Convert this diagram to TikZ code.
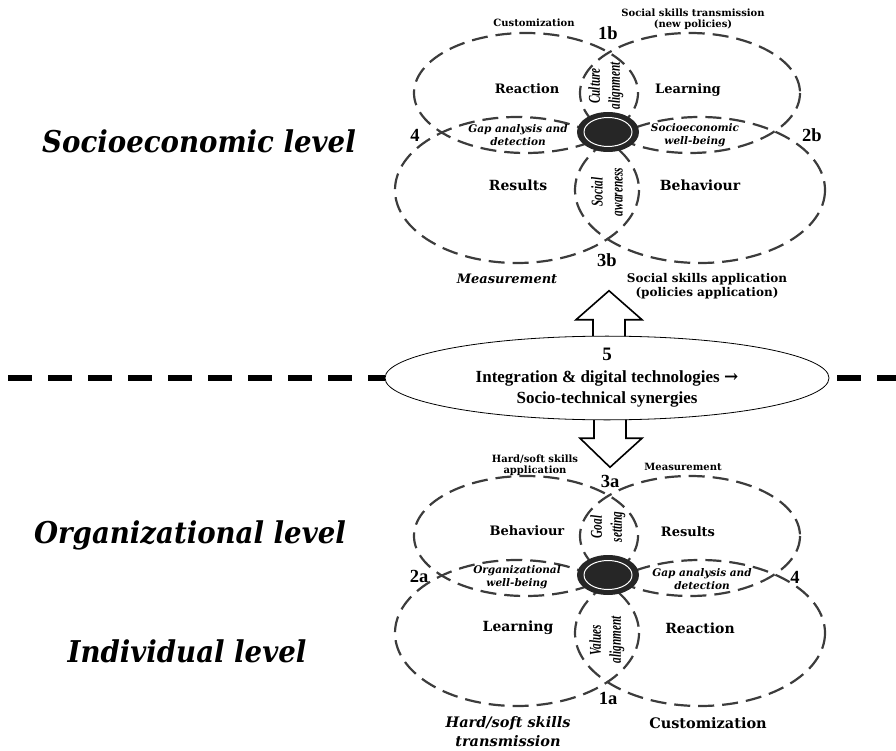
\documentclass[tikz,border=0pt]{standalone}
\usepackage{fontspec}
\usepackage{tikz}
\usetikzlibrary{calc,shapes.geometric,backgrounds}
\setmainfont{DejaVu Serif}
\newfontfamily\timesfont{Liberation Serif}
\newfontfamily\arrowfont{DejaVu Serif}
\newfontfamily\narrowfont[FakeStretch=0.68]{Liberation Serif}
\newfontfamily\sidefont[FakeStretch=0.92]{DejaVu Serif}
\definecolor{ringgray}{HTML}{3C3C3C}
\definecolor{hubcolor}{HTML}{262626}
\tikzset{
  ring/.style={draw=ringgray, line width=2.2pt, dash pattern=on 16pt off 8pt},
  lbl/.style={font=\bfseries\fontsize{13}{15}\selectfont, align=center, inner sep=1pt},
  lowlbl/.style={font=\bfseries\fontsize{14}{16}\selectfont, align=center, inner sep=1pt},
  smalllbl/.style={font=\bfseries\fontsize{10}{11.5}\selectfont, align=center, inner sep=1pt},
  outlbl/.style={font=\bfseries\fontsize{12}{14}\selectfont, align=center, inner sep=1pt},
  footlbl/.style={font=\bfseries\fontsize{14.5}{19}\selectfont, align=center, inner sep=1pt},
  lenslbl/.style={font=\bfseries\itshape\fontsize{10.5}{12.5}\selectfont, align=center, inner sep=1pt},
  rotlbl/.style={rotate=90, font=\narrowfont\bfseries\itshape\fontsize{16.5}{20}\selectfont, align=center, inner sep=1pt},
  numlbl/.style={font=\timesfont\bfseries\fontsize{18.5}{18}\selectfont, inner sep=1pt},
  levellbl/.style={font=\sidefont\bfseries\itshape\fontsize{30}{32}\selectfont, anchor=base, inner sep=0pt},
  midnode/.style={ellipse, draw=black, line width=0.8pt, fill=white, minimum width=444, minimum height=77,
    inner sep=0pt, align=center, font=\timesfont\bfseries\fontsize{17}{21}\selectfont},
  blockarrow/.style={draw=black, line width=1.6pt, fill=white, line join=miter},
  divider/.style={line width=6.5pt, dash pattern=on 24pt off 16pt}
}
\begin{document}
\begin{tikzpicture}[x=1pt, y=-1pt]
  \useasboundingbox (0,0) rectangle (896,751);
  % two four-ring clusters
  \foreach \dy in {0,443} {
    \begin{scope}[shift={(0,\dy)}]
      \draw[ring] (526,93) ellipse [x radius=112, y radius=60];
      \draw[ring] (690,93) ellipse [x radius=110, y radius=60];
      \draw[ring] (517,190) ellipse [x radius=122, y radius=73];
      \draw[ring] (700,190) ellipse [x radius=125, y radius=73];
      \fill[hubcolor] (608,132) ellipse [x radius=31, y radius=20];
      \draw[white, line width=1pt] (608,132) ellipse [x radius=24, y radius=14.5];
    \end{scope}
  }

  % socioeconomic level
  \node[smalllbl] (cust1) at (534,23) {Customization};
  \node[smalllbl] (trans1) at (693,19) {Social skills transmission\\(new policies)};
  \node[numlbl] (n1b) at (608,33) {1b};
  \node[lbl] (react1) at (527,89) {Reaction};
  \node[rotlbl] (cult) at (606,86) {Culture\\alignment};
  \node[lbl] (learn1) at (688,90) {Learning};
  \node[numlbl] (n4b) at (415,135) {4};
  \node[lenslbl] (gap1) at (518,135) {Gap analysis and\\detection};
  \node[lenslbl] (well1) at (695,135) {Socioeconomic\\well-being};
  \node[numlbl] (n2b) at (812,135) {2b};
  \node[lowlbl] (res1) at (518,185) {Results};
  \node[rotlbl] (soc) at (607,192) {Social\\awareness};
  \node[lowlbl] (beh1) at (700,185) {Behaviour};
  \node[numlbl] (n3b) at (607,260) {3b};
  \node[outlbl, font=\bfseries\itshape\fontsize{13}{14}\selectfont] (meas1) at (507,279) {Measurement};
  \node[outlbl] (appl1) at (707,286) {Social skills application\\(policies application)};

  % integration
  \node[midnode] (mid) at (607,378) {{\fontsize{19}{21}\selectfont 5}\\[1pt]Integration \& digital technologies {\arrowfont →}\\Socio-technical synergies};
  \coordinate (lend) at (8,378);
  \coordinate (rend) at (896,378);
  \begin{scope}[on background layer]
    \draw[divider] (lend) -- (mid.west);
    \draw[divider, shorten <=8pt] (mid.east) -- (rend);
    \draw[blockarrow] ($(mid.north)+(-14,10)$) -- ($(mid.north)+(-14,-16)$) -- ($(mid.north)+(-31,-16)$)
      -- ($(mid.north)+(2,-45)$) -- ($(mid.north)+(35,-16)$) -- ($(mid.north)+(18,-16)$) -- ($(mid.north)+(18,10)$);
    \draw[blockarrow] ($(mid.south)+(-13,-10)$) -- ($(mid.south)+(-13,18)$) -- ($(mid.south)+(-27,18)$)
      -- ($(mid.south)+(3,47)$) -- ($(mid.south)+(35,18)$) -- ($(mid.south)+(19,18)$) -- ($(mid.south)+(19,-10)$);
  \end{scope}

  % organizational and individual level
  \node[smalllbl] (hard2) at (535,465) {Hard/soft skills\\application};
  \node[smalllbl] (meas2) at (683,467) {Measurement};
  \node[numlbl] (n3a) at (610,481) {3a};
  \node[lbl] (beh2) at (527,531) {Behaviour};
  \node[rotlbl] (goal) at (608,527) {Goal\\setting};
  \node[lbl] (res2) at (688,532) {Results};
  \node[numlbl] (n2a) at (419,576) {2a};
  \node[lenslbl] (well2) at (517,577) {Organizational\\well-being};
  \node[lenslbl] (gap2) at (702,579) {Gap analysis and\\detection};
  \node[numlbl] (n4a) at (795,577) {4};
  \node[lowlbl] (learn2) at (518,628) {Learning};
  \node[rotlbl] (vals) at (607,640) {Values\\alignment};
  \node[lowlbl] (react2) at (700,628) {Reaction};
  \node[numlbl] (n1a) at (608,698) {1a};
  \node[footlbl, font=\bfseries\itshape\fontsize{14.5}{19}\selectfont] (hard1) at (508,732) {Hard/soft skills\\transmission};
  \node[footlbl] (cust2) at (708,723) {Customization};

  % levels
  \node[levellbl] (lvsoc) at (199,153) {Socioeconomic level};
  \node[levellbl] (lvorg) at (190,543) {Organizational level};
  \node[levellbl] (lvind) at (187,662) {Individual level};
\end{tikzpicture}
\end{document}
